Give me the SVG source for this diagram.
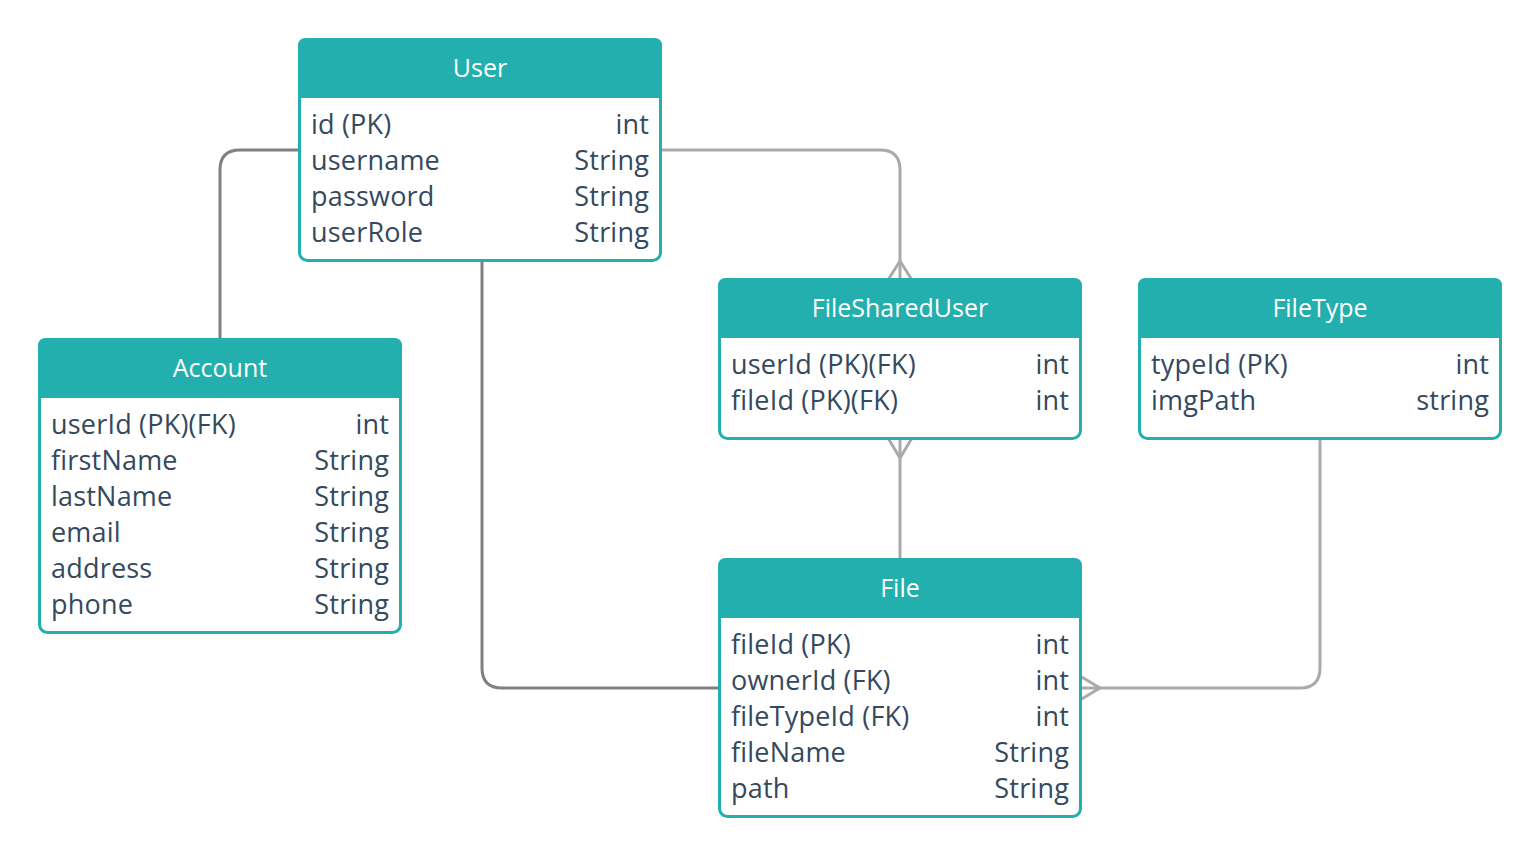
<svg xmlns="http://www.w3.org/2000/svg" width="1540" height="856" viewBox="0 0 1540 856">
<defs>
<style>
.box{fill:#fff;stroke:#23afad;stroke-width:3}
.hdr{fill:#23afad}
.title{font-family:"Open Sans","Noto Sans",sans-serif;font-size:25px;fill:#fff;text-anchor:middle;dominant-baseline:central}
.f{font-family:"Open Sans","Noto Sans",sans-serif;font-size:27px;letter-spacing:0.2px;fill:#34495e;dominant-baseline:central}
.t{text-anchor:end}
.dk{fill:none;stroke:#808080;stroke-width:3}
.lt{fill:none;stroke:#aaaaaa;stroke-width:3}
</style>
</defs>
<rect width="1540" height="856" fill="#fff"/>
<g id="connectors">
<path class="dk" d="M298 150 H240 Q220 150 220 170 V338"/>
<path class="dk" d="M482 262 V668 Q482 688 502 688 H718"/>
<path class="lt" d="M662 150 H880 Q900 150 900 170 V280"/>
<path class="lt" d="M888 280 L900 261 L912 280"/>
<path class="lt" d="M900 438 V558"/>
<path class="lt" d="M888 438 L900 458 L912 438"/>
<path class="lt" d="M1320 440 V668 Q1320 688 1300 688 H1082"/>
<path class="lt" d="M1080 676 L1100 688 L1080 700"/>
</g>
<g id="User">
<rect class="box" x="299.5" y="39.5" width="361" height="221" rx="8"/>
<path class="hdr" d="M298 46 Q298 38 306 38 H654 Q662 38 662 46 V98 H298 Z"/>
<text class="title" x="480" y="67">User</text>
<text class="f" x="311" y="123">id (PK)</text><text class="f t" x="649" y="123">int</text>
<text class="f" x="311" y="159">username</text><text class="f t" x="649" y="159">String</text>
<text class="f" x="311" y="195">password</text><text class="f t" x="649" y="195">String</text>
<text class="f" x="311" y="231">userRole</text><text class="f t" x="649" y="231">String</text>
</g>
<g id="Account">
<rect class="box" x="39.5" y="339.5" width="361" height="293" rx="8"/>
<path class="hdr" d="M38 346 Q38 338 46 338 H394 Q402 338 402 346 V398 H38 Z"/>
<text class="title" x="220" y="367">Account</text>
<text class="f" x="51" y="423">userId (PK)(FK)</text><text class="f t" x="389" y="423">int</text>
<text class="f" x="51" y="459">firstName</text><text class="f t" x="389" y="459">String</text>
<text class="f" x="51" y="495">lastName</text><text class="f t" x="389" y="495">String</text>
<text class="f" x="51" y="531">email</text><text class="f t" x="389" y="531">String</text>
<text class="f" x="51" y="567">address</text><text class="f t" x="389" y="567">String</text>
<text class="f" x="51" y="603">phone</text><text class="f t" x="389" y="603">String</text>
</g>
<g id="FileSharedUser">
<rect class="box" x="719.5" y="279.5" width="361" height="159" rx="8"/>
<path class="hdr" d="M718 286 Q718 278 726 278 H1074 Q1082 278 1082 286 V338 H718 Z"/>
<text class="title" x="900" y="307">FileSharedUser</text>
<text class="f" x="731" y="363">userId (PK)(FK)</text><text class="f t" x="1069" y="363">int</text>
<text class="f" x="731" y="399">fileId (PK)(FK)</text><text class="f t" x="1069" y="399">int</text>
</g>
<g id="FileType">
<rect class="box" x="1139.5" y="279.5" width="361" height="159" rx="8"/>
<path class="hdr" d="M1138 286 Q1138 278 1146 278 H1494 Q1502 278 1502 286 V338 H1138 Z"/>
<text class="title" x="1320" y="307">FileType</text>
<text class="f" x="1151" y="363">typeId (PK)</text><text class="f t" x="1489" y="363">int</text>
<text class="f" x="1151" y="399">imgPath</text><text class="f t" x="1489" y="399">string</text>
</g>
<g id="File">
<rect class="box" x="719.5" y="559.5" width="361" height="257" rx="8"/>
<path class="hdr" d="M718 566 Q718 558 726 558 H1074 Q1082 558 1082 566 V618 H718 Z"/>
<text class="title" x="900" y="587">File</text>
<text class="f" x="731" y="643">fileId (PK)</text><text class="f t" x="1069" y="643">int</text>
<text class="f" x="731" y="679">ownerId (FK)</text><text class="f t" x="1069" y="679">int</text>
<text class="f" x="731" y="715">fileTypeId (FK)</text><text class="f t" x="1069" y="715">int</text>
<text class="f" x="731" y="751">fileName</text><text class="f t" x="1069" y="751">String</text>
<text class="f" x="731" y="787">path</text><text class="f t" x="1069" y="787">String</text>
</g>
</svg>
